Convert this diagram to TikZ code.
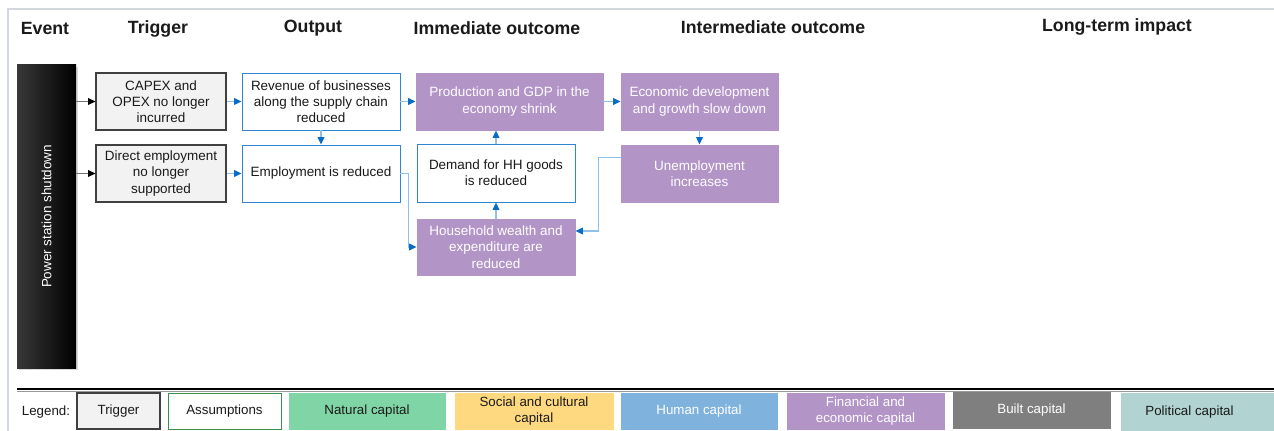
\documentclass[tikz,border=0pt]{standalone}
\usepackage{fontspec}
\setmainfont{Liberation Sans}
\usetikzlibrary{arrows.meta,calc}
\definecolor{purp}{HTML}{B294C7}
\definecolor{trg}{HTML}{F2F2F2}
\definecolor{trgb}{HTML}{404040}
\definecolor{bluebd}{HTML}{2E86D0}
\definecolor{bline}{HTML}{8FC0E8}
\definecolor{btip}{HTML}{0A6CC4}
\definecolor{frame}{HTML}{D3D8DE}
\definecolor{natc}{HTML}{80D5A6}
\definecolor{socc}{HTML}{FFD97F}
\definecolor{humc}{HTML}{7FB2DC}
\definecolor{bltc}{HTML}{7F7F7F}
\definecolor{polc}{HTML}{B1D3D1}
\definecolor{assb}{HTML}{3E8E4E}
\definecolor{txt}{HTML}{1A1A1A}
\begin{document}
\begin{tikzpicture}[x=0.75pt,y=-0.75pt,
  hdr/.style={font=\fontsize{13.3}{16}\selectfont\bfseries, text=txt, anchor=center},
  bx/.style={draw, line width=0.7pt, align=center, inner sep=1pt, font=\fontsize{10.1}{12.2}\selectfont, text=txt},
  trigbox/.style={bx, fill=trg, draw=trgb, line width=0.8pt},
  assbox/.style={bx, fill=white, draw=bluebd},
  finbox/.style={bx, fill=purp, draw=purp, text=white},
  leg/.style={draw, line width=0.7pt, align=center, inner sep=1pt, minimum height=27pt, font=\fontsize{10}{12}\selectfont, text=txt},
  garrow/.style={draw=black!55, line width=0.8pt, -{Triangle[length=5.5pt,width=5pt,color=black]}},
  barrow/.style={draw=bline, line width=0.9pt, -{Triangle[length=5.5pt,width=5pt,color=btip]}}
]
\useasboundingbox (0,0) rectangle (1274,431);
% outer frame
\draw[frame, line width=1.2pt] (8,431) -- (8,9) -- (1274,9);
% headers
\node[hdr] (hEvent) at (45,28) {Event};
\node[hdr] (hTrig) at (158,29) {Trigger};
\node[hdr] (hOut) at (313,28) {Output};
\node[hdr] (hImm) at (497,28) {Immediate outcome};
\node[hdr] (hInt) at (773,27) {Intermediate outcome};
\node[hdr] (hLong) at (1117,27) {Long-term impact};
% event bar
\fill[black!15] (19,67) rectangle (78,370);
\node[draw=none, left color=black!78, right color=black, minimum width=44.25pt, minimum height=227.25pt, inner sep=0pt] (event) at (46.5,216.5) {};
\node[rotate=90, text=white, font=\fontsize{10.1}{12}\selectfont] (evtxt) at (event.center) {Power station shutdown};
% trigger
\node[trigbox, minimum width=97.5pt, minimum height=42.75pt] (t1) at (161,101.5) {CAPEX and\\OPEX no longer\\incurred};
\node[trigbox, minimum width=97.5pt, minimum height=42.75pt] (t2) at (161,173.5) {Direct employment\\no longer\\supported};
% output
\node[assbox, minimum width=118.5pt, minimum height=42.75pt] (o1) at (321,101.5) {Revenue of businesses\\along the supply chain\\reduced};
\node[assbox, minimum width=118.5pt, minimum height=42.75pt] (o2) at (321,173.5) {Employment is reduced};
% immediate
\node[finbox, minimum width=140.25pt, minimum height=42.75pt] (prod) at (509.5,101.5) {Production and GDP in the\\economy shrink};
\node[assbox, minimum width=118.5pt, minimum height=43.5pt] (dem) at (496,173) {Demand for HH goods\\is reduced};
\node[finbox, minimum width=118.5pt, minimum height=42pt] (hh) at (496,247) {Household wealth and\\expenditure are\\reduced};
% intermediate
\node[finbox, minimum width=117.75pt, minimum height=42.75pt] (econ) at (699.5,101.5) {Economic development\\and growth slow down};
\node[finbox, minimum width=117.75pt, minimum height=42.75pt] (unemp) at (699.5,173.5) {Unemployment\\increases};
% connectors
\draw[garrow] (event.east |- t1.west) -- (t1.west);
\draw[garrow] (event.east |- t2.west) -- (t2.west);
\draw[barrow] (t1) -- (o1);
\draw[barrow] (t2) -- (o2);
\draw[barrow] (o1) -- (o2);
\draw[barrow] (o1) -- (prod);
\draw[barrow] (o2.east) -- ++(8,0) |- (hh.west);
\draw[barrow] (hh) -- (dem);
\draw[barrow] (dem.north) -- (dem.north |- prod.south);
\draw[barrow] (prod) -- (econ);
\draw[barrow] (econ) -- (unemp);
\draw[barrow] ([yshift=12pt]unemp.west) -- ++(-22,0) |- ([yshift=12pt]hh.east);
% legend
\draw[line width=2pt, black] (17,389) -- (1274,389);
\draw[line width=0.6pt, black!40] (17,391.5) -- (1274,391.5);
\node[font=\fontsize{10}{12}\selectfont, text=txt] (legtxt) at (46,412) {Legend:};
\node[leg, fill=trg, draw=trgb, line width=0.9pt, minimum width=62.25pt] (lTrig) at (118.5,411) {Trigger};
\node[leg, fill=white, draw=assb, minimum width=84.75pt] (lAss) at (224.5,411) {Assumptions};
\node[leg, fill=natc, draw=natc, minimum width=117pt] (lNat) at (367,411) {Natural capital};
\node[leg, fill=socc, draw=socc, minimum width=118.5pt] (lSoc) at (534,411) {Social and cultural\\capital};
\node[leg, fill=humc, draw=humc, minimum width=117pt, text=white] (lHum) at (699,411) {Human capital};
\node[leg, fill=purp, draw=purp, minimum width=117.75pt, text=white] (lFin) at (865.5,411) {Financial and\\economic capital};
\node[leg, fill=bltc, draw=bltc, minimum width=117.75pt, text=white] (lBlt) at (1031.5,410) {Built capital};
\node[leg, fill=polc, draw=polc, minimum width=114pt, minimum height=28pt] (lPol) at (1197.5,412) {\hspace*{-12pt}Political capital};
\end{tikzpicture}
\end{document}
